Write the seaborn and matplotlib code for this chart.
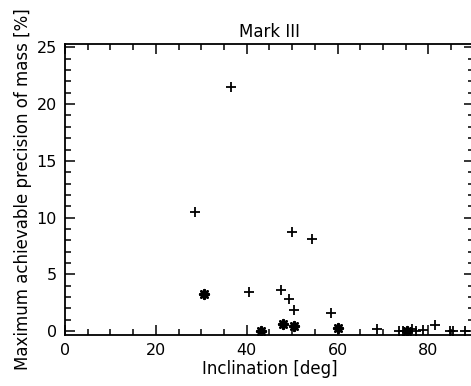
import pandas as pd
import seaborn as sns
import matplotlib.pyplot as plt
from matplotlib.ticker import MultipleLocator

# datos (inclinacion en grados, precision en %)
plus_x = [28.6, 36.6, 40.5, 47.6, 49.3, 50.0, 50.4, 54.4, 58.6, 68.7, 73.6, 74.5,
          76.4, 77.3, 78.9, 81.5, 84.8, 85.5, 88.0]
plus_y = [10.5, 21.5, 3.4, 3.6, 2.8, 8.7, 1.85, 8.1, 1.6, 0.15, 0.0, 0.0,
          0.2, 0.0, 0.1, 0.5, 0.0, 0.05, 0.0]
star_x = [30.6, 43.2, 48.0, 50.4, 60.1, 75.3]
star_y = [3.3, 0.0, 0.65, 0.45, 0.3, 0.0]

plus_df = pd.DataFrame({'incl': plus_x, 'prec': plus_y})
star_df = pd.DataFrame({'incl': star_x, 'prec': star_y})

sns.set_style('white')
plt.rcParams['font.family'] = ['DejaVu Sans']
plt.rcParams['text.color'] = 'black'
plt.rcParams['axes.labelcolor'] = 'black'

fig = plt.figure(figsize=(4.71, 3.86), dpi=100)
ax = fig.add_axes([0.138, 0.132, 0.868, 0.754])

sns.scatterplot(data=plus_df, x='incl', y='prec', marker='+', s=55,
                color='black', linewidth=1.3, ax=ax)
sns.scatterplot(data=star_df, x='incl', y='prec', marker=(8, 2, 0), s=40,
                color='black', linewidth=1.8, ax=ax)

ax.set_xlim(0, 90)
ax.set_ylim(-0.35, 25.3)
ax.xaxis.set_major_locator(MultipleLocator(20))
ax.xaxis.set_minor_locator(MultipleLocator(5))
ax.yaxis.set_major_locator(MultipleLocator(5))
ax.yaxis.set_minor_locator(MultipleLocator(1))
ax.tick_params(which='both', direction='in', top=True, right=True,
               bottom=True, left=True, colors='black', labelsize=11.5, width=1.1)
ax.tick_params(which='major', length=7, pad=6)
ax.tick_params(which='minor', length=4)
for sp in ax.spines.values():
    sp.set_color('black')
    sp.set_linewidth(1.3)

ax.set_title('Mark III', fontsize=12, pad=5, color='black')
ax.set_xlabel('Inclination [deg]', fontsize=12, labelpad=1)
ax.set_ylabel('Maximum achievable precision of mass [%]', fontsize=12, labelpad=3)

fig.savefig('out.png', dpi=100)
